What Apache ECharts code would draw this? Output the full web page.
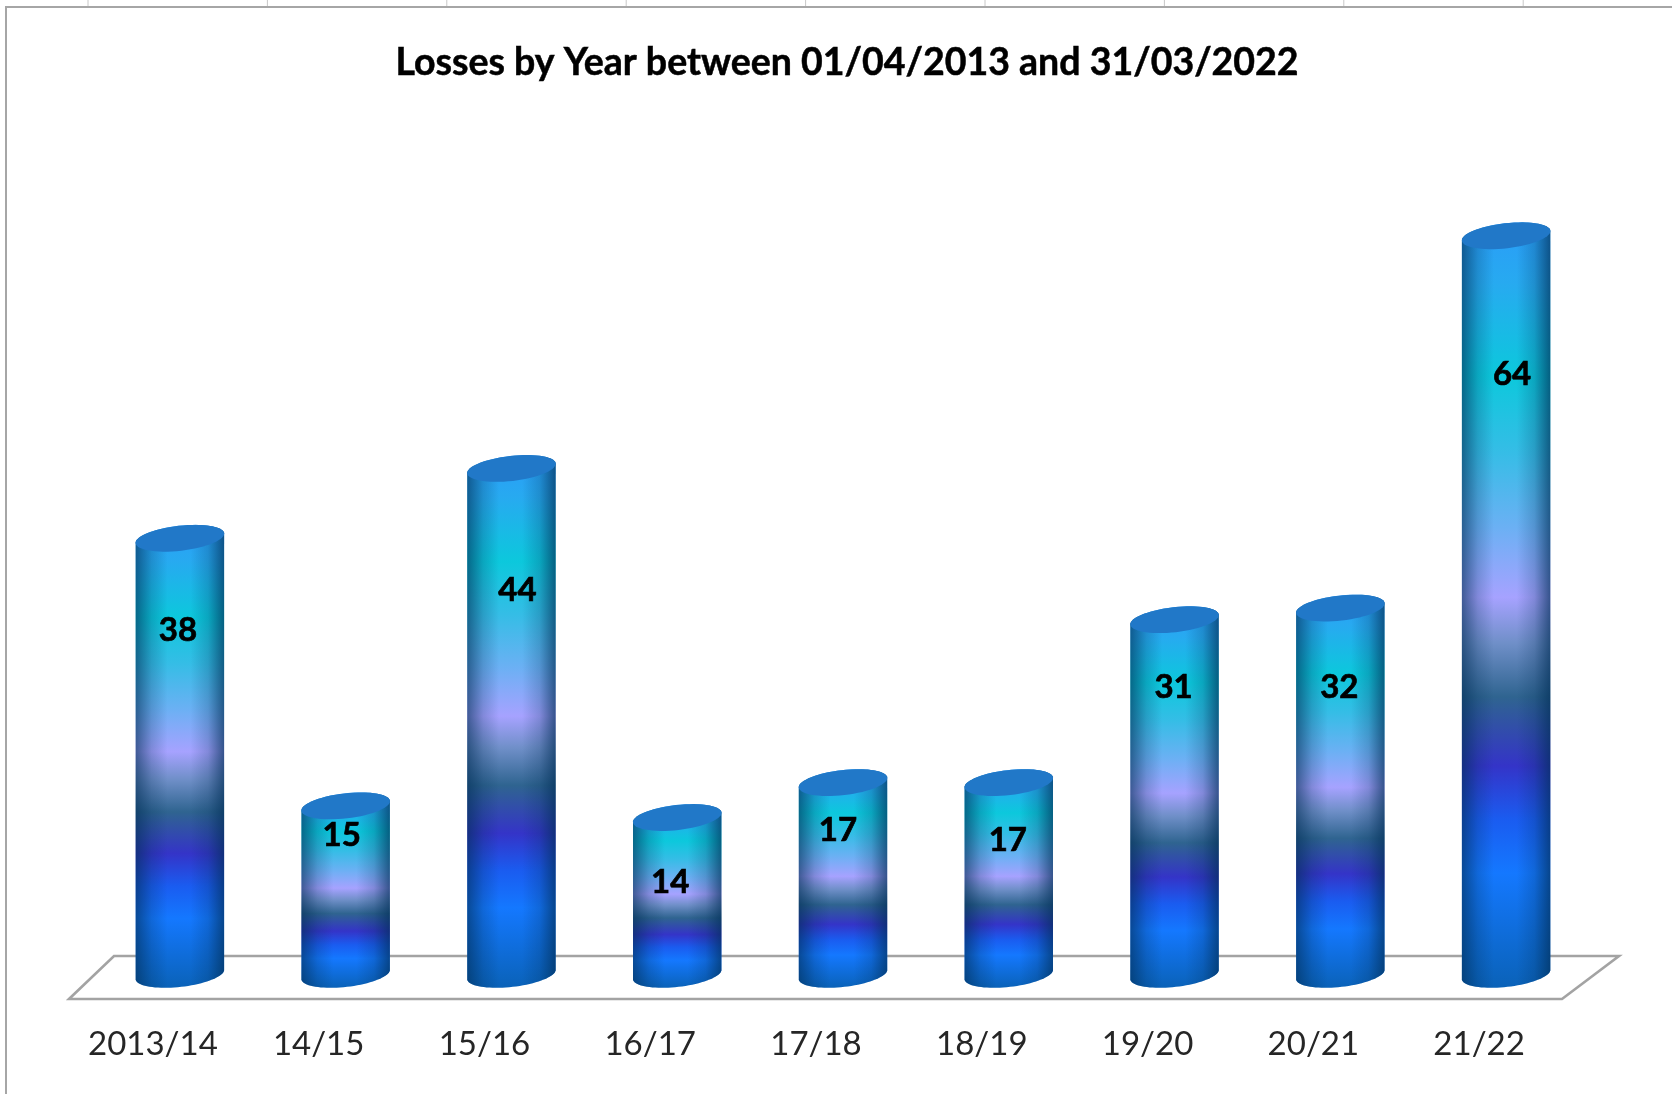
<!DOCTYPE html>
<html>
<head>
<meta charset="utf-8">
<style>html,body{margin:0;padding:0;background:#fff}#c{width:1672px;height:1094px}</style>
<script src="https://cdn.jsdelivr.net/npm/echarts@6/dist/echarts.min.js"></script>
</head>
<body>
<div id="c"></div>
<script>
const categories = ['2013/14','14/15','15/16','16/17','17/18','18/19','19/20','20/21','21/22'];
const losses = [38,15,44,14,17,17,31,32,64];
const titleText = 'Losses by Year between 01/04/2013 and 31/03/2022';

// Where each number sits on its cylinder, in value units / px from cylinder centre.
const labelRise = [30.1,12.5,33.5,8.4,12.9,12.05,25.2,25.2,52.05];
const labelShift = [-2,-4,6,-7,-5,-1,-1,-1,6];

const FONT = 'Lato, "Noto Sans", sans-serif';
const RX = 44.5, RY = 12.5, TILT = -6.5 * Math.PI / 180, DEPTH_SHIFT = 27, FOOT_LIFT = 6;

function ellipsePts(cx, cy, from, to, n) {
  const pts = [];
  for (let i = 0; i <= n; i++) {
    const t = from + (to - from) * i / n;
    const ex = RX * Math.cos(t), ey = RY * Math.sin(t);
    pts.push([cx + ex * Math.cos(TILT) - ey * Math.sin(TILT),
              cy + ex * Math.sin(TILT) + ey * Math.cos(TILT)]);
  }
  return pts;
}

const chart = echarts.init(document.getElementById('c'));
const cells = Array.from({length: 9}, (_, i) => 88 + 179.4 * i);

function bodyFill() {
  return new echarts.graphic.LinearGradient(0, 0, 0, 1, [
    {offset: 0.00, color: '#2a9cf8'},
    {offset: 0.08, color: '#27aaf0'},
    {offset: 0.20, color: '#0cc8dc'},
    {offset: 0.30, color: '#35bde6'},
    {offset: 0.40, color: '#6cb0f4'},
    {offset: 0.49, color: '#a6a2ff'},
    {offset: 0.55, color: '#6f8fc8'},
    {offset: 0.62, color: '#2f6490'},
    {offset: 0.71, color: '#3434c8'},
    {offset: 0.78, color: '#1a5cf0'},
    {offset: 0.85, color: '#1478ff'},
    {offset: 1.00, color: '#0a62b8'}
  ]);
}
function edgeFill() {
  return new echarts.graphic.LinearGradient(0, 0, 1, 0, [
    {offset: 0.00, color: 'rgba(0,45,85,0.62)'},
    {offset: 0.18, color: 'rgba(0,45,85,0.22)'},
    {offset: 0.36, color: 'rgba(0,45,85,0)'},
    {offset: 0.62, color: 'rgba(0,45,85,0)'},
    {offset: 0.82, color: 'rgba(0,45,85,0.22)'},
    {offset: 1.00, color: 'rgba(0,45,85,0.68)'}
  ]);
}

function renderCylinder(params, api) {
  const i = params.dataIndex, v = api.value(1);
  const base = api.coord([i, 0]), top = api.coord([i, v]);
  const cx = base[0] + DEPTH_SHIFT;
  const bottomArc = ellipsePts(cx, base[1] - FOOT_LIFT, Math.PI, 0, 40);
  const topArc = ellipsePts(cx, top[1], 0, -Math.PI, 40);
  const body = bottomArc.concat(topArc);
  const cap = ellipsePts(cx, top[1], 0, 2 * Math.PI, 60);
  const lab = api.coord([i, labelRise[i]]);
  return {
    type: 'group',
    children: [
      {type: 'polygon', shape: {points: body}, style: {fill: bodyFill()}},
      {type: 'polygon', shape: {points: body}, style: {fill: edgeFill()}},
      {type: 'polygon', shape: {points: cap}, style: {fill: '#2178c8'}},
      {type: 'text', x: cx + labelShift[i], y: lab[1], z2: 20,
       style: {text: String(v), fill: '#000', stroke: '#000', lineWidth: 0.7,
               font: 'bold 33px ' + FONT, align: 'center', verticalAlign: 'middle'}}
    ]
  };
}

function renderFloor(params, api) {
  if (params.dataIndex !== 0) return null;
  const g = params.coordSys;
  const b = g.y + g.height, l = g.x, r = g.x + g.width;
  return {
    type: 'polygon', silent: true,
    shape: {points: [[l - 1, b + 18.6], [l + 44, b - 24.4], [r + 57, b - 24.4], [r, b + 18.6]]},
    style: {fill: '#fff', stroke: '#a3a3a3', lineWidth: 2.6, lineJoin: 'miter'}
  };
}

chart.setOption({
  animation: false,
  backgroundColor: '#fff',
  title: {
    text: titleText, left: 842, top: 58, textAlign: 'center', textVerticalAlign: 'middle',
    textStyle: {fontFamily: FONT, fontWeight: 'bold', fontSize: 37.5, color: '#000',
                textBorderColor: '#000', textBorderWidth: 0.5}
  },
  grid: {left: 70, width: 1492, top: 49.6, height: 930.8},
  xAxis: {
    type: 'category', data: categories,
    axisLine: {show: false}, axisTick: {show: false}, splitLine: {show: false},
    axisLabel: {margin: 47, fontFamily: FONT, fontSize: 33, color: '#262626', interval: 0}
  },
  yAxis: {type: 'value', min: 0, max: 80, show: false},
  series: [
    {type: 'custom', name: 'floor', z: 1, silent: true, renderItem: renderFloor,
     data: losses.map((v, i) => [i, v]), encode: {x: 0, y: 1}, clip: false},
    {type: 'custom', name: 'Losses', z: 2, renderItem: renderCylinder,
     data: losses.map((v, i) => [i, v]), encode: {x: 0, y: 1}, clip: false}
  ],
  graphic: [
    {type: 'polyline', shape: {points: [[6, 1094], [6, 7], [1672, 7]]}, silent: true,
     style: {stroke: '#a6a6a6', lineWidth: 2, fill: null}},
    ...cells.map(x => ({type: 'line', shape: {x1: x, y1: 0, x2: x, y2: 6}, silent: true,
                        style: {stroke: '#c8c8c8', lineWidth: 1}}))
  ]
});
</script>
</body>
</html>
